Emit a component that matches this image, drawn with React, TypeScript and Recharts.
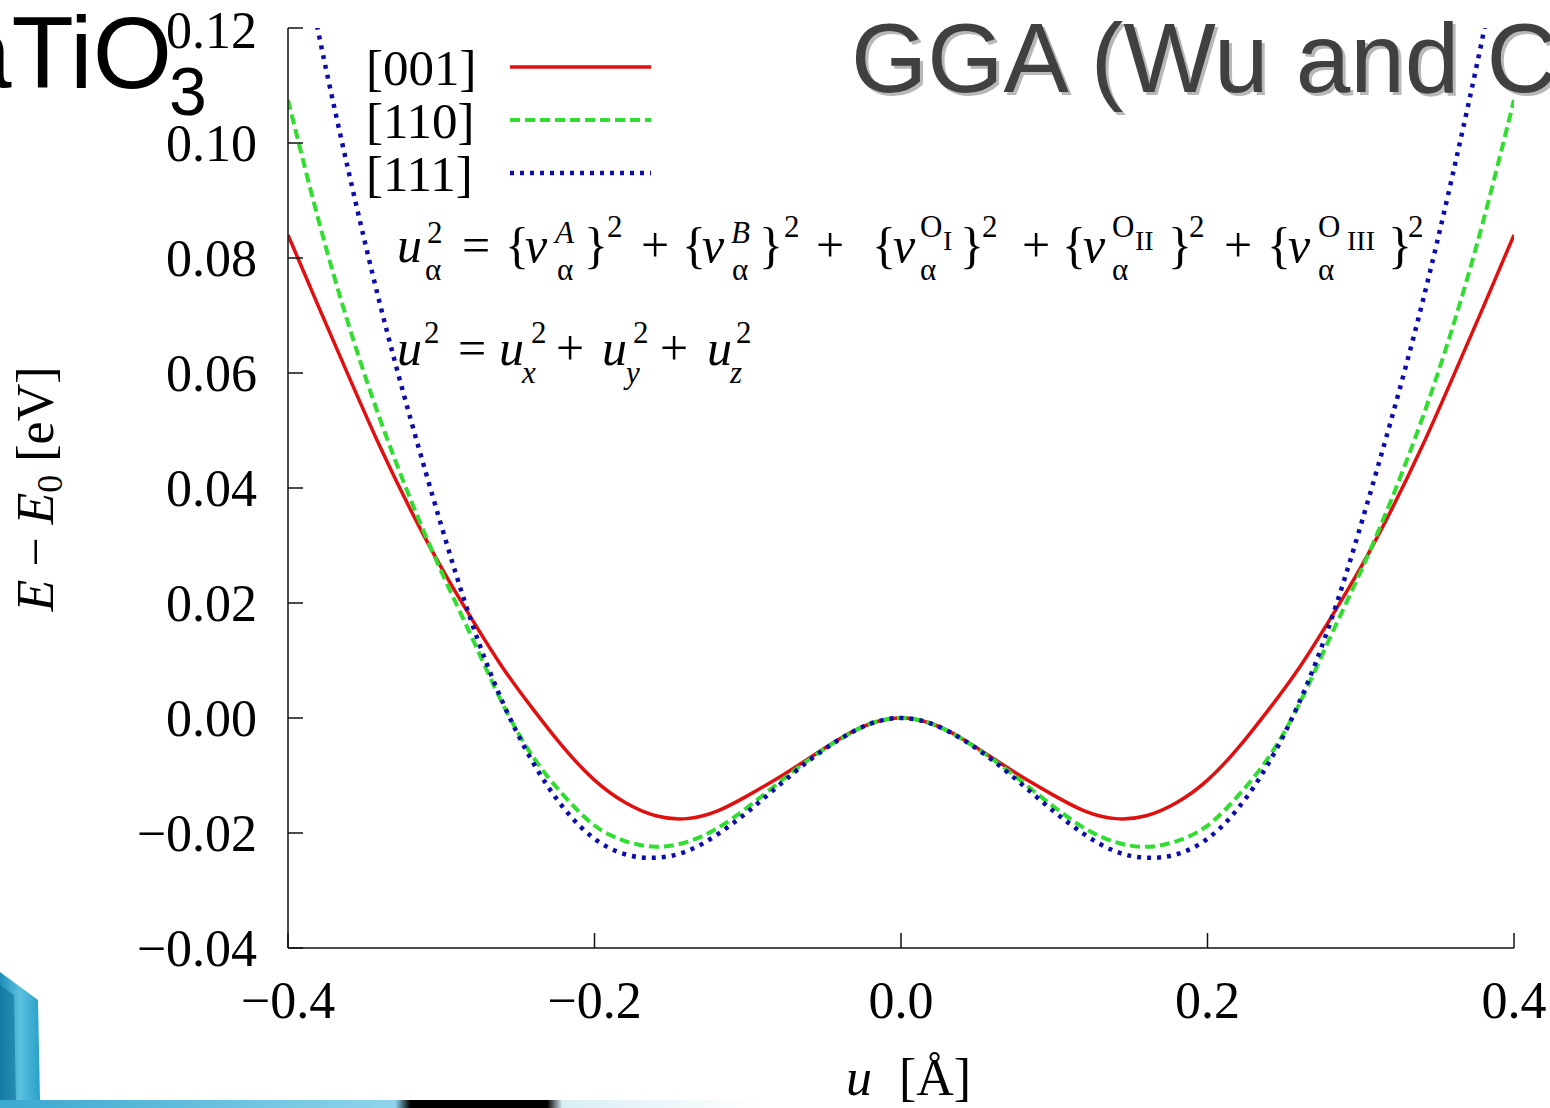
import { LineChart, Line, XAxis, YAxis, Legend } from "recharts";

// displacement u [Å]
const uValues = [
  -0.4, -0.38, -0.36, -0.34, -0.32, -0.3, -0.28, -0.26, -0.24, -0.22, -0.2,
  -0.18, -0.16, -0.14, -0.12, -0.1, -0.08, -0.06, -0.04, -0.02, 0,
  0.02, 0.04, 0.06, 0.08, 0.1, 0.12, 0.14, 0.16, 0.18, 0.2,
  0.22, 0.24, 0.26, 0.28, 0.3, 0.32, 0.34, 0.36, 0.38, 0.4,
];

// E - E0 [eV]
const e001 = [
  0.084, 0.0715, 0.0592, 0.0472, 0.0362, 0.0262, 0.0172, 0.0088, 0.0015, -0.0052, -0.0108,
  -0.0147, -0.017, -0.0175, -0.0162, -0.0135, -0.0104, -0.007, -0.0036, -0.001, 0,
  -0.001, -0.0036, -0.007, -0.0104, -0.0135, -0.0162, -0.0175, -0.017, -0.0147, -0.0108,
  -0.0052, 0.0015, 0.0088, 0.0172, 0.0262, 0.0362, 0.0472, 0.0592, 0.0715, 0.084,
];
const e110 = [
  0.1075, 0.0865, 0.068, 0.052, 0.038, 0.0255, 0.014, 0.0025, -0.0068, -0.0135, -0.0187,
  -0.0214, -0.0224, -0.0216, -0.0192, -0.0155, -0.0113, -0.0072, -0.0037, -0.001, 0,
  -0.001, -0.0037, -0.0072, -0.0113, -0.0155, -0.0192, -0.0216, -0.0224, -0.0214, -0.0187,
  -0.0135, -0.0068, 0.0025, 0.014, 0.0255, 0.038, 0.052, 0.068, 0.0865, 0.1075,
];
const e111 = [
  0.146, 0.119, 0.0945, 0.072, 0.052, 0.0335, 0.0165, 0.0028, -0.0078, -0.0157, -0.021,
  -0.0237, -0.0243, -0.0232, -0.0203, -0.0163, -0.0118, -0.0074, -0.0037, -0.001, 0,
  -0.001, -0.0037, -0.0074, -0.0118, -0.0163, -0.0203, -0.0232, -0.0243, -0.0237, -0.021,
  -0.0157, -0.0078, 0.0028, 0.0165, 0.0335, 0.052, 0.072, 0.0945, 0.119, 0.146,
];

const seriesNames = ["[001]", "[110]", "[111]"];
const xTicks = [-0.4, -0.2, 0, 0.2, 0.4];
const yTicks = [-0.04, -0.02, 0, 0.02, 0.04, 0.06, 0.08, 0.1, 0.12];

const data = uValues.map((u, i) => ({ u, d001: e001[i], d110: e110[i], d111: e111[i] }));

const lineStyles = [
  { key: "d001", color: "#e01010", dash: undefined, width: 3.5 },
  { key: "d110", color: "#30dd30", dash: "10 5", width: 4 },
  { key: "d111", color: "#0c0caa", dash: "4 6", width: 4.5 },
];

const SERIF = "'Liberation Serif', 'Times New Roman', serif";
const SANS = "'Liberation Sans', Arial, sans-serif";
const minus = "\u2212";
const fmtY = (v: number) => (v < 0 ? minus : "") + Math.abs(v).toFixed(2);
const fmtX = (v: number) => (v < 0 ? minus : "") + Math.abs(v).toFixed(1);

const tickStyle = { fill: "#000", fontSize: 52, fontFamily: SERIF };
const axisLine = { stroke: "#111", strokeWidth: 1.5 };

const renderLegend = () => (
  <svg width={300} height={170}>
    {seriesNames.map((name, i) => {
      const cy = 32 + i * 53;
      const s = lineStyles[i];
      return (
        <g key={name}>
          <text x={6} y={cy + 18} fontFamily={SERIF} fontSize={51} fill="#000">
            {name}
          </text>
          <line x1={150} x2={291} y1={cy} y2={cy} stroke={s.color} strokeWidth={s.width} strokeDasharray={s.dash} />
        </g>
      );
    })}
  </svg>
);

// text piece helper for the formulas
const T = ({ x, y, s = 50, it = false, c }: { x: number; y: number; s?: number; it?: boolean; c: string }) => (
  <text x={x} y={y} fontSize={s} fontStyle={it ? "italic" : "normal"} fontFamily={SERIF} fill="#000">
    {c}
  </text>
);

const Overlay = () => (
  <svg width={1550} height={1108} style={{ position: "absolute", left: 0, top: 0, pointerEvents: "none" }}>
    <defs>
      <linearGradient id="deco" x1="0" y1="0" x2="1" y2="0">
        <stop offset="0" stopColor="#1f8fb8" />
        <stop offset="0.5" stopColor="#5cc0e0" />
        <stop offset="1" stopColor="#2aa0c8" />
      </linearGradient>
      <linearGradient id="strip" x1="0" y1="0" x2="1" y2="0">
        <stop offset="0" stopColor="#3aa8d0" />
        <stop offset="0.52" stopColor="#8fd4ec" />
        <stop offset="0.54" stopColor="#000" />
        <stop offset="0.72" stopColor="#000" />
        <stop offset="0.74" stopColor="#d8eef6" />
        <stop offset="1" stopColor="#ffffff" />
      </linearGradient>
    </defs>

    {/* slide titles */}
    <text x={172} y={88} textAnchor="end" fontFamily={SANS} fontSize={102} fill="#000">BaTiO</text>
    <text x={169} y={115} fontFamily={SANS} fontSize={68} fill="#000">3</text>
    <text x={854} y={95} fontFamily={SANS} fontSize={98} fill="#b8b8b8">GGA (Wu and Cohen)</text>
    <text x={851} y={92} fontFamily={SANS} fontSize={98} fill="#404040">GGA (Wu and Cohen)</text>

    {/* axis labels */}
    <text x={53} y={489} transform="rotate(-90 53 489)" textAnchor="middle" fontFamily={SERIF} fontSize={52} fill="#000">
      <tspan fontStyle="italic">E</tspan>
      <tspan> {minus} </tspan>
      <tspan fontStyle="italic">E</tspan>
      <tspan fontSize={36} dy={9}>0</tspan>
      <tspan dy={-9}> [eV]</tspan>
    </text>
    <text x={846} y={1095} fontFamily={SERIF} fontSize={52} fontStyle="italic" fill="#000">u</text>
    <text x={899} y={1095} fontFamily={SERIF} fontSize={52} fill="#000">[Å]</text>

    {/* formula line 1 */}
    <T x={397} y={262} it c="u" />
    <T x={427} y={243} s={31} c="2" />
    <T x={425} y={280} s={31} c="α" />
    <T x={462} y={262} c="=" />
    <T x={505} y={262} c="{" />
    <T x={525} y={262} it c="v" />
    <T x={555} y={243} s={31} it c="A" />
    <T x={557} y={280} s={31} c="α" />
    <T x={584} y={262} c="}" />
    <T x={607} y={237} s={31} c="2" />
    <T x={641} y={262} c="+" />
    <T x={682} y={262} c="{" />
    <T x={702} y={262} it c="v" />
    <T x={731} y={243} s={31} it c="B" />
    <T x={732} y={280} s={31} c="α" />
    <T x={759} y={262} c="}" />
    <T x={784} y={237} s={31} c="2" />
    <T x={816} y={262} c="+" />
    <T x={872} y={262} c="{" />
    <T x={893} y={262} it c="v" />
    <T x={920} y={237} s={31} c="O" />
    <T x={943} y={250} s={28} c="I" />
    <T x={920} y={280} s={31} c="α" />
    <T x={960} y={262} c="}" />
    <T x={982} y={237} s={31} c="2" />
    <T x={1022} y={262} c="+" />
    <T x={1062} y={262} c="{" />
    <T x={1083} y={262} it c="v" />
    <T x={1112} y={237} s={31} c="O" />
    <T x={1135} y={250} s={28} c="II" />
    <T x={1112} y={280} s={31} c="α" />
    <T x={1168} y={262} c="}" />
    <T x={1189} y={237} s={31} c="2" />
    <T x={1224} y={262} c="+" />
    <T x={1267} y={262} c="{" />
    <T x={1288} y={262} it c="v" />
    <T x={1318} y={237} s={31} c="O" />
    <T x={1347} y={250} s={28} c="III" />
    <T x={1318} y={280} s={31} c="α" />
    <T x={1388} y={262} c="}" />
    <T x={1408} y={237} s={31} c="2" />

    {/* formula line 2 */}
    <T x={397} y={365} it c="u" />
    <T x={424} y={343} s={31} c="2" />
    <T x={458} y={365} c="=" />
    <T x={499} y={365} it c="u" />
    <T x={531} y={343} s={31} c="2" />
    <T x={522} y={383} s={31} it c="x" />
    <T x={556} y={365} c="+" />
    <T x={602} y={365} it c="u" />
    <T x={633} y={343} s={31} c="2" />
    <T x={626} y={383} s={31} it c="y" />
    <T x={660} y={365} c="+" />
    <T x={707} y={365} it c="u" />
    <T x={736} y={343} s={31} c="2" />
    <T x={730} y={383} s={31} it c="z" />

    {/* slide decoration bottom-left */}
    <path d="M0 972 L38 1000 L40 1100 L0 1108 Z" fill="url(#deco)" />
    <path d="M0 985 L14 995 L16 1108 L0 1108 Z" fill="#0e6f96" opacity={0.6} />
    <rect x={0} y={1100} width={760} height={8} fill="url(#strip)" />
  </svg>
);

export default function App() {
  return (
    <div
      style={{
        position: "absolute",
        left: 0,
        top: 0,
        width: 1550,
        height: 1108,
        overflow: "hidden",
        background: "#fff",
      }}
    >
      <LineChart width={1550} height={1108} data={data} margin={{ top: 28, right: 36, bottom: 0, left: 0 }}>
        <XAxis
          dataKey="u"
          type="number"
          domain={[-0.4, 0.4]}
          ticks={xTicks}
          allowDataOverflow
          height={160}
          tickSize={-15}
          tickMargin={48}
          tickFormatter={fmtX}
          tick={tickStyle}
          axisLine={axisLine}
          tickLine={axisLine}
        />
        <XAxis
          xAxisId="top"
          orientation="top"
          type="number"
          domain={[-0.4, 0.4]}
          ticks={xTicks}
          allowDataOverflow
          height={0}
          tickSize={-15}
          tickFormatter={() => ""}
          axisLine={axisLine}
          tickLine={axisLine}
        />
        <YAxis
          type="number"
          domain={[-0.04, 0.12]}
          ticks={yTicks}
          allowDataOverflow
          width={288}
          tickSize={-15}
          tickMargin={46}
          tickFormatter={fmtY}
          tick={tickStyle}
          axisLine={axisLine}
          tickLine={axisLine}
        />
        <YAxis
          yAxisId="right"
          orientation="right"
          type="number"
          domain={[-0.04, 0.12]}
          ticks={yTicks}
          allowDataOverflow
          width={0}
          tickSize={-15}
          tickFormatter={() => ""}
          axisLine={axisLine}
          tickLine={axisLine}
        />
        <Legend
          layout="vertical"
          align="center"
          verticalAlign="middle"
          content={renderLegend}
          wrapperStyle={{ left: 360, top: 35, width: 300, height: 170 }}
        />
        {lineStyles.map((s, i) => (
          <Line
            key={s.key}
            name={seriesNames[i]}
            dataKey={s.key}
            type="natural"
            stroke={s.color}
            strokeWidth={s.width}
            strokeDasharray={s.dash}
            dot={false}
            isAnimationActive={false}
          />
        ))}
      </LineChart>
      <Overlay />
    </div>
  );
}
